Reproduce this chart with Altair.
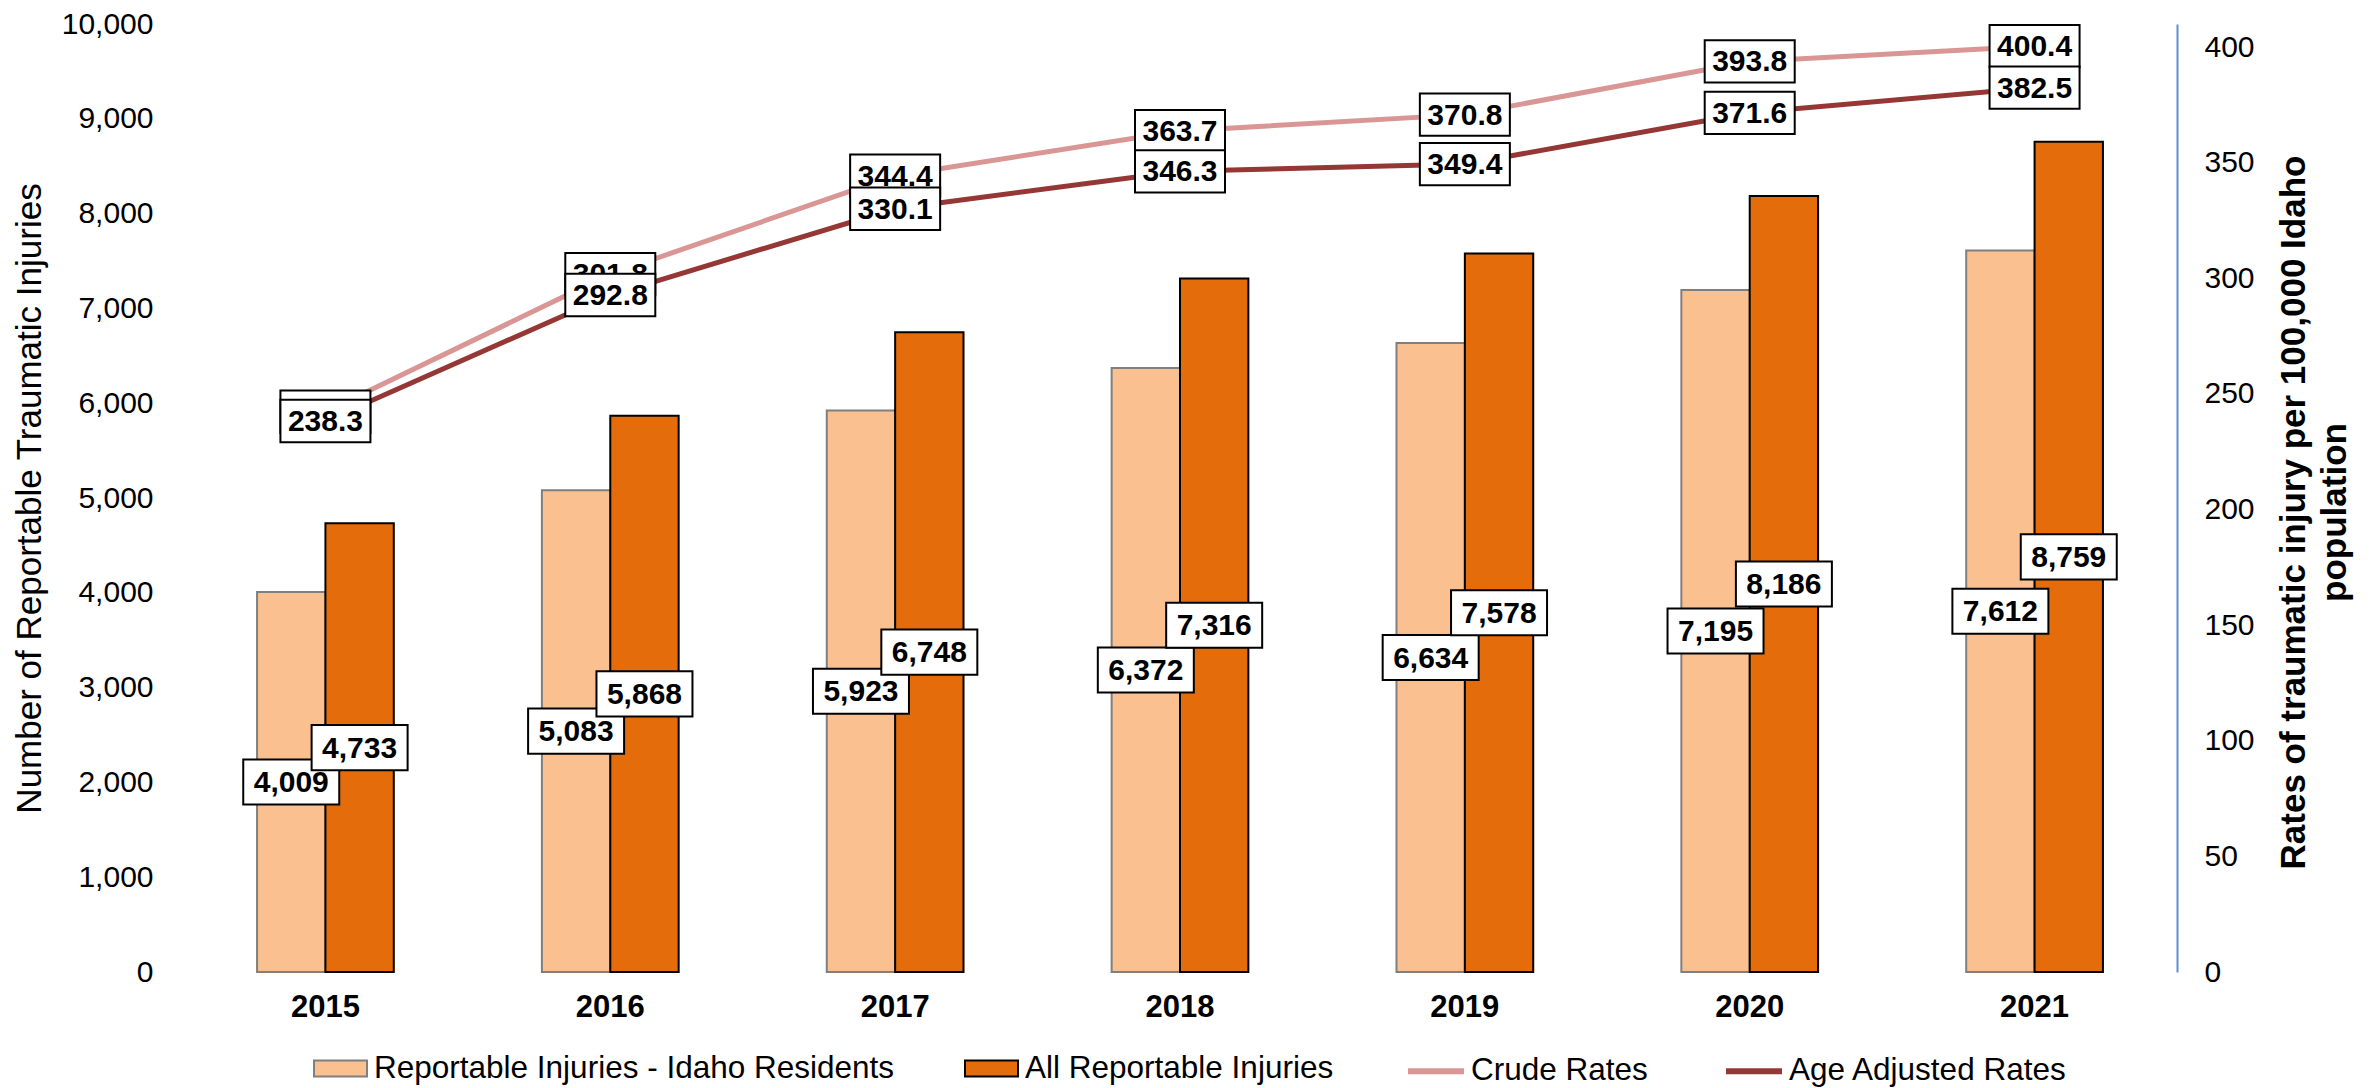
import altair as alt
import pandas as pd

years = ["2015", "2016", "2017", "2018", "2019", "2020", "2021"]
residents = [4009, 5083, 5923, 6372, 6634, 7195, 7612]
all_injuries = [4733, 5868, 6748, 7316, 7578, 8186, 8759]
crude_rates = [242.3, 301.8, 344.4, 363.7, 370.8, 393.8, 400.4]
age_adjusted = [238.3, 292.8, 330.1, 346.3, 349.4, 371.6, 382.5]

bar_series = ["Reportable Injuries - Idaho Residents", "All Reportable Injuries"]
rate_series = ["Crude Rates", "Age Adjusted Rates"]
bar_colors = ["#FAC090", "#E46C0A"]
rate_colors = ["#D99694", "#953735"]
left_ticks = [0, 1000, 2000, 3000, 4000, 5000, 6000, 7000, 8000, 9000, 10000]
right_ticks = [0, 50, 100, 150, 200, 250, 300, 350, 400]

FONT = "Liberation Sans"

bars_df = pd.DataFrame({
    "year": years * 2,
    "series": [bar_series[0]] * len(years) + [bar_series[1]] * len(years),
    "value": residents + all_injuries,
})
rates_df = pd.DataFrame({
    "year": years * 2,
    "series": [rate_series[0]] * len(years) + [rate_series[1]] * len(years),
    "value": crude_rates + age_adjusted,
})

x_enc = alt.X(
    "year:N",
    scale=alt.Scale(paddingInner=0.52, paddingOuter=0.26),
    axis=alt.Axis(title=None, domain=False, ticks=False, labelAngle=0,
                  labelFont=FONT, labelFontSize=31, labelFontWeight="bold",
                  labelColor="black", labelPadding=20),
)
xoff_enc = alt.XOffset("series:N", scale=alt.Scale(domain=bar_series, paddingInner=0, paddingOuter=0))

left_scale = alt.Scale(domain=[0, 10000], nice=False)
left_axis = alt.Axis(
    title="Number of Reportable Traumatic Injuries", values=left_ticks, format=",.0f",
    domain=False, ticks=False, grid=False, labelFont=FONT, labelFontSize=30,
    labelColor="black", labelPadding=30, titleFont=FONT, titleFontSize=35,
    titleFontWeight="normal", titleColor="black", titlePadding=14,
)
right_scale = alt.Scale(domain=[0, 410], nice=False)
right_axis = alt.Axis(
    orient="right", values=right_ticks, domain=True, domainColor="#5B8FD5",
    domainWidth=2, ticks=False, grid=False, labelFont=FONT, labelFontSize=30,
    labelColor="black", labelPadding=27,
    title=["Rates of traumatic injury per 100,000 Idaho", "population"],
    titleFont=FONT, titleFontSize=35, titleFontWeight="bold", titleColor="black",
    titleAngle=270, titlePadding=16, titleLineHeight=41, titleY=488,
)

box_path = "M-1,-0.47H1V0.47H-1Z"
legend_rect = "M-1,-0.3H1V0.3H-1Z"

bars = alt.Chart(bars_df).mark_bar(strokeWidth=2).encode(
    x=x_enc,
    xOffset=xoff_enc,
    y=alt.Y("value:Q", scale=left_scale, axis=left_axis),
    fill=alt.Fill("series:N", scale=alt.Scale(domain=bar_series, range=bar_colors),
                  legend=alt.Legend(title=None, orient="none", legendX=130, legendY=1017,
                                    direction="horizontal", columns=2,
                                    symbolType=legend_rect, symbolSize=2809,
                                    symbolStrokeColor={"expr": "datum.value === 'All Reportable Injuries' ? '#000000' : '#7F7F7F'"},
                                    symbolStrokeWidth=2,
                                    labelFont=FONT, labelFontSize=31.5, labelColor="black",
                                    labelLimit=1000, labelOffset=6, columnPadding=66,
                                    padding=0)),
    stroke=alt.condition(alt.datum.series == bar_series[1], alt.value("#000000"), alt.value("#7F7F7F")),
)

group1_layers = [bars]
for s in bar_series:
    base = alt.Chart(bars_df).transform_filter(alt.datum.series == s).transform_calculate(mid="datum.value / 2")
    box = base.mark_point(shape=box_path, size=9216, filled=True, fill="white",
                          stroke="black", strokeWidth=2, opacity=1).encode(
        x=x_enc, xOffset=xoff_enc, y=alt.Y("mid:Q", scale=left_scale, axis=left_axis))
    txt = base.mark_text(font=FONT, fontSize=30, fontWeight="bold", color="black",
                         align="center", baseline="middle", dy=1).encode(
        x=x_enc, xOffset=xoff_enc, y=alt.Y("mid:Q", scale=left_scale, axis=left_axis),
        text=alt.Text("value:Q", format=","))
    group1_layers += [box, txt]

lines = alt.Chart(rates_df).mark_line(strokeWidth=5).encode(
    x=x_enc,
    y=alt.Y("value:Q", scale=right_scale, axis=right_axis),
    stroke=alt.Stroke("series:N", scale=alt.Scale(domain=rate_series, range=rate_colors),
                      legend=alt.Legend(title=None, orient="none", legendX=1222, legendY=1016,
                                        direction="horizontal", columns=2,
                                        symbolType="stroke", symbolSize=3136,
                                        symbolStrokeWidth=6,
                                        labelFont=FONT, labelFontSize=31.5, labelColor="black",
                                        labelLimit=1000, labelOffset=4, columnPadding=66,
                                        padding=0)),
)

group2_layers = [lines]
for s in rate_series:
    base = alt.Chart(rates_df).transform_filter(alt.datum.series == s)
    box = base.mark_point(shape=box_path, size=8100, filled=True, fill="white",
                          stroke="black", strokeWidth=2, opacity=1).encode(
        x=x_enc, y=alt.Y("value:Q", scale=right_scale, axis=right_axis))
    txt = base.mark_text(font=FONT, fontSize=30, fontWeight="bold", color="black",
                         align="center", baseline="middle", dy=1).encode(
        x=x_enc, y=alt.Y("value:Q", scale=right_scale, axis=right_axis),
        text=alt.Text("value:Q", format=".1f"))
    group2_layers += [box, txt]

group1 = alt.layer(*group1_layers)
group2 = alt.layer(*group2_layers)

chart = alt.layer(group1, group2).resolve_scale(y="independent").properties(
    width=1994, height=948,
    autosize=alt.AutoSizeParams(type="none"),
    padding={"left": 175, "top": 16, "right": 194, "bottom": 116},
).configure(font=FONT).configure_view(stroke="transparent")

chart.save("out.html", embed_options={"renderer": "svg", "actions": False})
